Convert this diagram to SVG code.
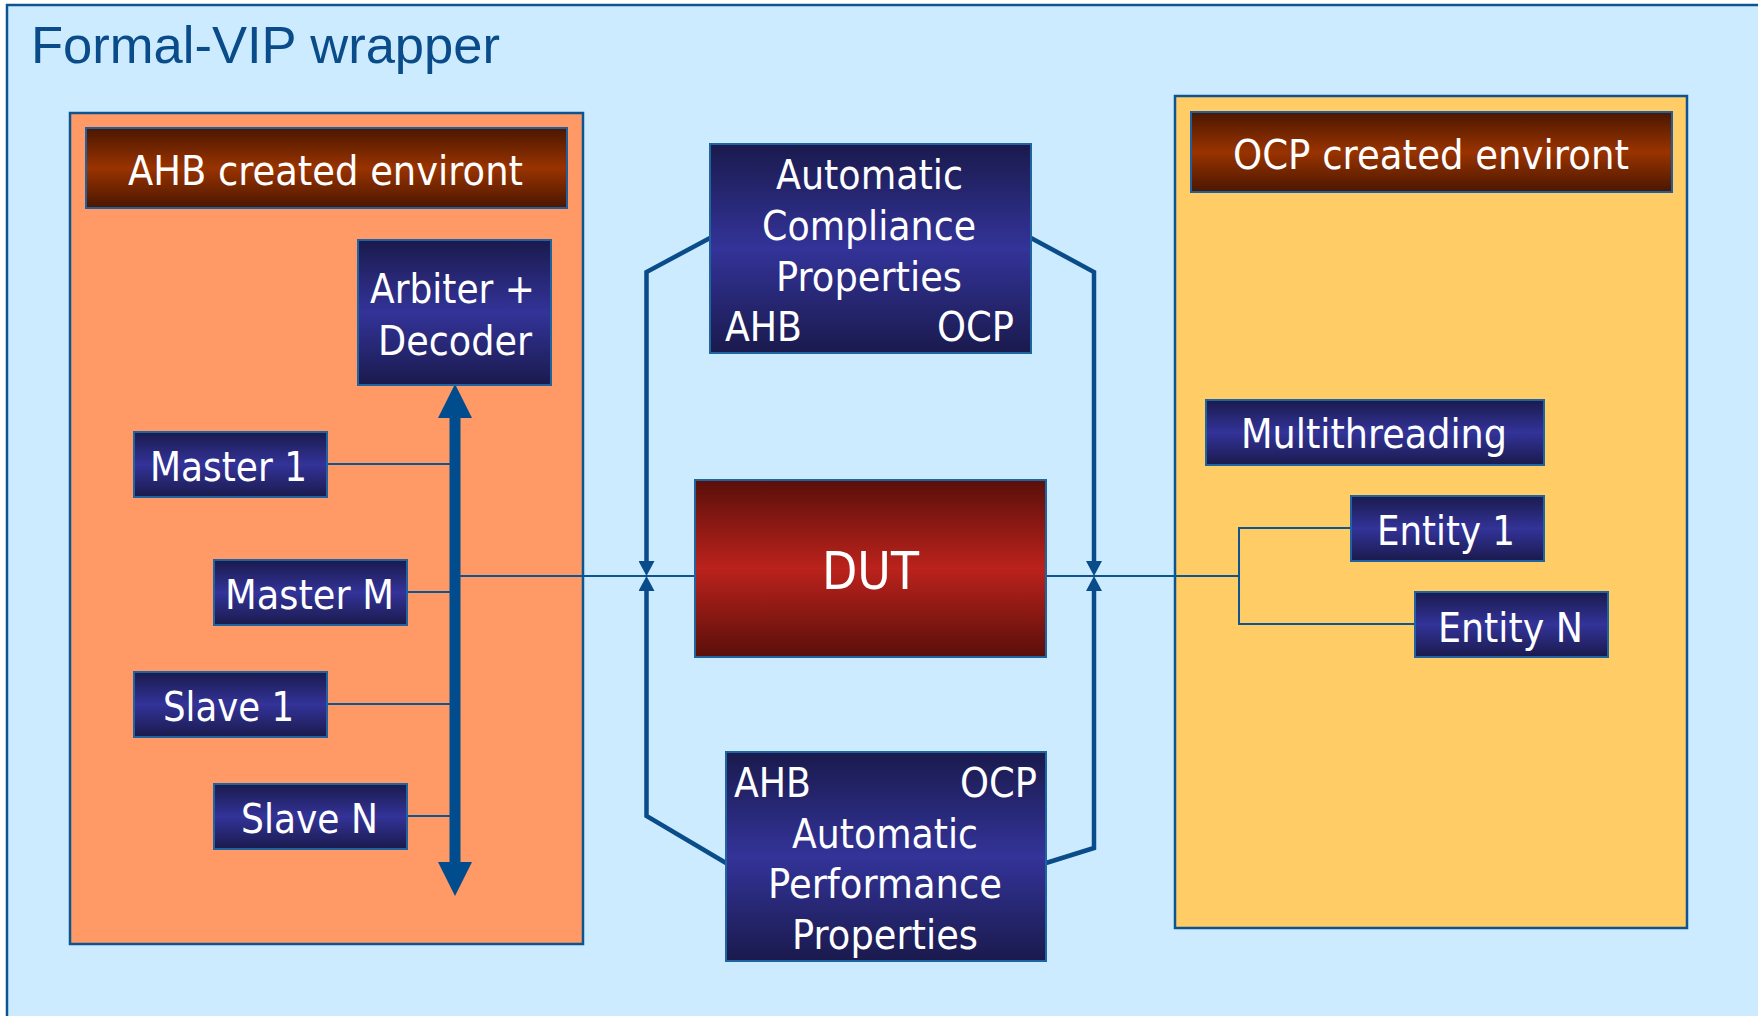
<svg xmlns="http://www.w3.org/2000/svg" width="1758" height="1016" viewBox="0 0 1758 1016">
<defs>
<style>
.frame{fill:#CCEBFF;stroke:#0D5592;stroke-width:2.5}
.ahbenv{fill:#FF9966;stroke:#0D5592;stroke-width:2.5}
.ocpenv{fill:#FFCC66;stroke:#0D5592;stroke-width:2.5}
.hdr{fill:url(#gBrown);stroke:#1F5F9F;stroke-width:2}
.nv{fill:url(#gNavy);stroke:#1F64A0;stroke-width:2}
.dut{fill:url(#gRed);stroke:#1F64A0;stroke-width:2}
.t{font-family:"DejaVu Sans","Noto Sans",sans-serif;fill:#FFFFFF;font-size:40px}
.title{font-family:"Liberation Sans",Arial,sans-serif;fill:#0A4C8A;font-size:52.5px}
.thin{fill:none;stroke:#0D5592;stroke-width:2}
.side{fill:none;stroke:#0A4C8A;stroke-width:4.5}
.bus{fill:none;stroke:#004C8C;stroke-width:11}
</style>
<linearGradient id="gBrown" x1="0" y1="0" x2="0" y2="1">
<stop offset="0" stop-color="#4A1700"/><stop offset="0.5" stop-color="#993300"/><stop offset="1" stop-color="#4A1700"/>
</linearGradient>
<linearGradient id="gNavy" x1="0" y1="0" x2="0" y2="1">
<stop offset="0" stop-color="#1A1A4D"/><stop offset="0.5" stop-color="#333399"/><stop offset="1" stop-color="#1A1A4D"/>
</linearGradient>
<linearGradient id="gRed" x1="0" y1="0" x2="0" y2="1">
<stop offset="0" stop-color="#5A0F0A"/><stop offset="0.5" stop-color="#BB221C"/><stop offset="1" stop-color="#5A0F0A"/>
</linearGradient>
<marker id="busHead" markerUnits="userSpaceOnUse" markerWidth="34" markerHeight="34" viewBox="0 0 34 34" refX="0" refY="17" orient="auto-start-reverse">
<path d="M0,0 L34,17 L0,34 z" fill="#004C8C"/>
</marker>
<marker id="smallHead" markerUnits="userSpaceOnUse" markerWidth="15" markerHeight="16" viewBox="0 0 15 16" refX="9" refY="8" orient="auto">
<path d="M0,0 L15,8 L0,16 z" fill="#0A4C8A"/>
</marker>
</defs>

<rect class="frame" x="7" y="5" width="1800" height="1100"/>
<text class="title" x="31" y="63" textLength="469" lengthAdjust="spacingAndGlyphs">Formal-VIP wrapper</text>

<g id="ahb-env">
<rect class="ahbenv" x="70" y="113" width="513" height="831"/>
</g>
<g id="ocp-env">
<rect class="ocpenv" x="1175" y="96" width="512" height="832"/>
</g>

<g id="connectors">
<path class="bus" d="M455,418 L455,862" marker-start="url(#busHead)" marker-end="url(#busHead)"/>
<path class="thin" d="M327,464 L450,464"/>
<path class="thin" d="M407,592 L450,592"/>
<path class="thin" d="M327,704 L450,704"/>
<path class="thin" d="M407,816 L450,816"/>
<path class="thin" d="M460,576 L695,576"/>
<path class="thin" d="M1046,576 L1239,576"/>
<path class="thin" d="M1351,528 L1239,528 L1239,624 L1415,624"/>
<path class="side" d="M710,238 L646.5,272 L646.5,570" marker-end="url(#smallHead)"/>
<path class="side" d="M726,863 L646.5,816 L646.5,582" marker-end="url(#smallHead)"/>
<path class="side" d="M1031,238 L1094,272 L1094,570" marker-end="url(#smallHead)"/>
<path class="side" d="M1046,863 L1094,848 L1094,582" marker-end="url(#smallHead)"/>
</g>

<g id="ahb-header">
<rect class="hdr" x="86" y="128" width="481" height="80"/>
<text class="t" x="128" y="185" textLength="395" lengthAdjust="spacingAndGlyphs">AHB created environt</text>
</g>
<g id="arbiter">
<rect class="nv" x="358" y="240" width="193" height="145"/>
<text class="t" x="370" y="303" textLength="165" lengthAdjust="spacingAndGlyphs">Arbiter +</text>
<text class="t" x="378" y="355" textLength="154" lengthAdjust="spacingAndGlyphs">Decoder</text>
</g>
<g id="master1">
<rect class="nv" x="134" y="432" width="193" height="65"/>
<text class="t" x="150" y="481" textLength="157" lengthAdjust="spacingAndGlyphs">Master 1</text>
</g>
<g id="masterM">
<rect class="nv" x="214" y="560" width="193" height="65"/>
<text class="t" x="225" y="609" textLength="169" lengthAdjust="spacingAndGlyphs">Master M</text>
</g>
<g id="slave1">
<rect class="nv" x="134" y="672" width="193" height="65"/>
<text class="t" x="163" y="721" textLength="131" lengthAdjust="spacingAndGlyphs">Slave 1</text>
</g>
<g id="slaveN">
<rect class="nv" x="214" y="784" width="193" height="65"/>
<text class="t" x="241" y="833" textLength="137" lengthAdjust="spacingAndGlyphs">Slave N</text>
</g>

<g id="compliance">
<rect class="nv" x="710" y="144" width="321" height="209"/>
<text class="t" x="776" y="189" textLength="187" lengthAdjust="spacingAndGlyphs">Automatic</text>
<text class="t" x="762" y="240" textLength="214" lengthAdjust="spacingAndGlyphs">Compliance</text>
<text class="t" x="776" y="291" textLength="186" lengthAdjust="spacingAndGlyphs">Properties</text>
<text class="t" x="725" y="341" textLength="77" lengthAdjust="spacingAndGlyphs">AHB</text>
<text class="t" x="937" y="341" textLength="77" lengthAdjust="spacingAndGlyphs">OCP</text>
</g>
<g id="dut">
<rect class="dut" x="695" y="480" width="351" height="177"/>
<text class="t" x="822" y="589" style="font-size:52px" textLength="97" lengthAdjust="spacingAndGlyphs">DUT</text>
</g>
<g id="performance">
<rect class="nv" x="726" y="752" width="320" height="209"/>
<text class="t" x="734" y="797" textLength="77" lengthAdjust="spacingAndGlyphs">AHB</text>
<text class="t" x="960" y="797" textLength="77" lengthAdjust="spacingAndGlyphs">OCP</text>
<text class="t" x="792" y="848" textLength="186" lengthAdjust="spacingAndGlyphs">Automatic</text>
<text class="t" x="768" y="898" textLength="234" lengthAdjust="spacingAndGlyphs">Performance</text>
<text class="t" x="792" y="949" textLength="186" lengthAdjust="spacingAndGlyphs">Properties</text>
</g>

<g id="ocp-header">
<rect class="hdr" x="1191" y="112" width="481" height="80"/>
<text class="t" x="1233" y="169" textLength="396" lengthAdjust="spacingAndGlyphs">OCP created environt</text>
</g>
<g id="multithreading">
<rect class="nv" x="1206" y="400" width="338" height="65"/>
<text class="t" x="1241" y="448" textLength="266" lengthAdjust="spacingAndGlyphs">Multithreading</text>
</g>
<g id="entity1">
<rect class="nv" x="1351" y="496" width="193" height="65"/>
<text class="t" x="1377" y="545" textLength="138" lengthAdjust="spacingAndGlyphs">Entity 1</text>
</g>
<g id="entityN">
<rect class="nv" x="1415" y="592" width="193" height="65"/>
<text class="t" x="1438" y="642" textLength="145" lengthAdjust="spacingAndGlyphs">Entity N</text>
</g>
</svg>
